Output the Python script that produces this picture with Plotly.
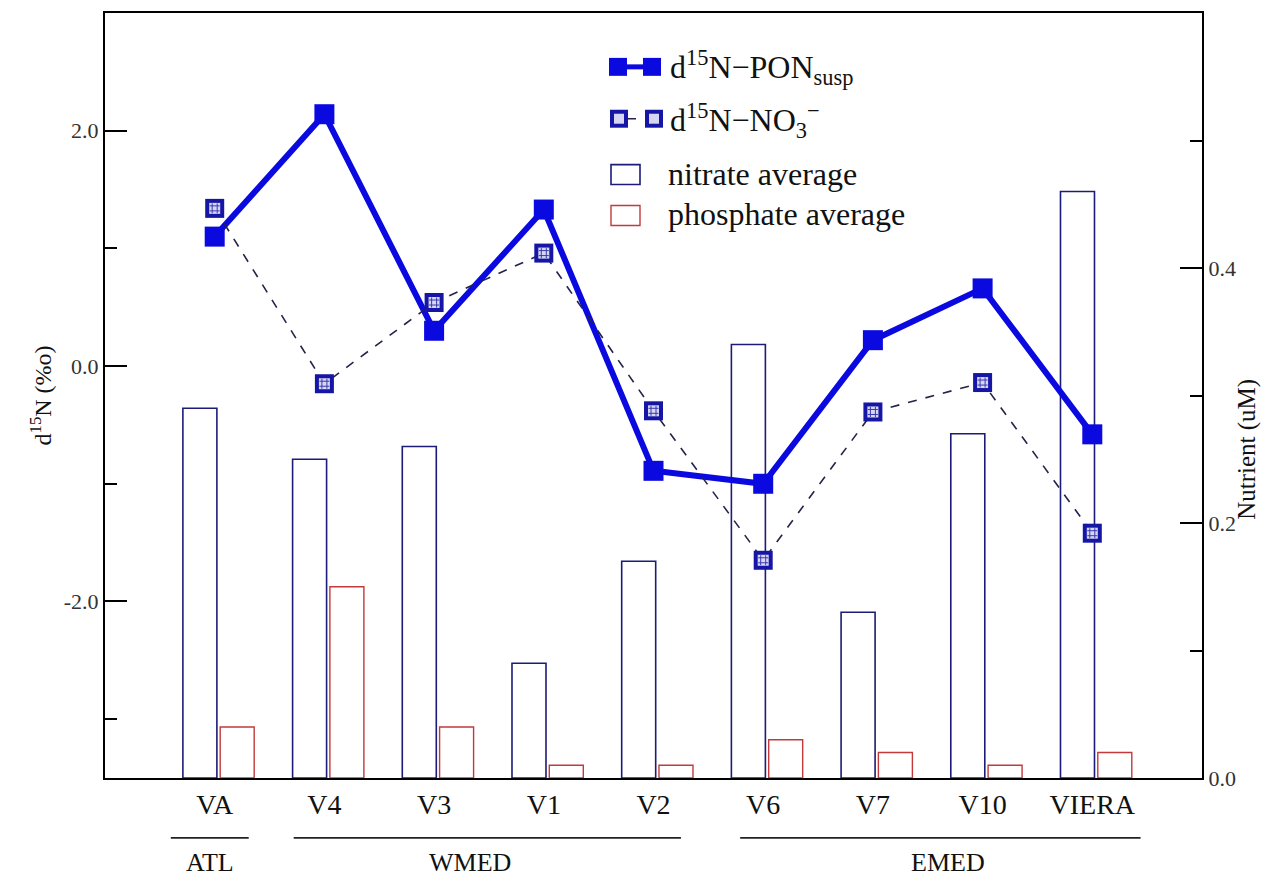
import plotly.graph_objects as go

# Stations along the transect and their regional grouping
stations = ["VA", "V4", "V3", "V1", "V2", "V6", "V7", "V10", "VIERA"]
groups = [("ATL", -0.40, 0.31, -0.04), ("WMED", 0.72, 4.25, 2.33), ("EMED", 4.79, 8.44, 6.68)]

# Isotopic composition (per mil)
d15n_pon = [1.10, 2.14, 0.30, 1.33, -0.89, -1.00, 0.22, 0.66, -0.58]
d15n_no3 = [1.34, -0.15, 0.54, 0.96, -0.38, -1.65, -0.39, -0.14, -1.42]

# Nutrient concentrations (uM)
nitrate_avg = [0.29, 0.25, 0.26, 0.09, 0.17, 0.34, 0.13, 0.27, 0.46]
phosphate_avg = [0.04, 0.15, 0.04, 0.01, 0.01, 0.03, 0.02, 0.01, 0.02]

SERIF = "Liberation Serif, Times New Roman, serif"
NAVY = "#1c1c78"
RED = "#c23a3a"
BLUE = "#0a0ae0"
NO3_EDGE = "#1616a6"
NO3_FILL = "#d6d6f2"

fig = go.Figure()

# Nutrient bars (right axis, drawn underneath the isotope lines)
fig.add_trace(go.Bar(
    x=stations, y=nitrate_avg, yaxis="y", offset=-0.29, width=0.31,
    marker=dict(color="rgba(0,0,0,0)", line=dict(color=NAVY, width=1.6)),
    name="nitrate average", showlegend=False,
))
fig.add_trace(go.Bar(
    x=stations, y=phosphate_avg, yaxis="y", offset=0.05, width=0.31,
    marker=dict(color="rgba(0,0,0,0)", line=dict(color=RED, width=1.4)),
    name="phosphate average", showlegend=False,
))

# d15N of suspended PON
fig.add_trace(go.Scatter(
    x=stations, y=d15n_pon, yaxis="y2", mode="lines+markers",
    line=dict(color=BLUE, width=6),
    marker=dict(symbol="square", size=20, color=BLUE, line=dict(width=0)),
    showlegend=False,
))

# d15N of nitrate: dashed line with patterned square markers
fig.add_trace(go.Scatter(
    x=stations, y=d15n_no3, yaxis="y2", mode="lines+markers",
    line=dict(color="#23234a", width=1.6, dash="dash"),
    marker=dict(symbol="square", size=19, color=NO3_EDGE, line=dict(width=0)),
    showlegend=False,
))
fig.add_trace(go.Scatter(
    x=stations, y=d15n_no3, yaxis="y2", mode="markers",
    marker=dict(symbol="square", size=11, color=NO3_FILL, line=dict(width=0)),
    showlegend=False, hoverinfo="skip",
))
fig.add_trace(go.Scatter(
    x=stations, y=d15n_no3, yaxis="y2", mode="markers",
    marker=dict(symbol="hash-open", size=10, color="#3a3ab0", line=dict(width=1, color="#3a3ab0")),
    showlegend=False, hoverinfo="skip",
))

# ---- hand-built legend (paper coordinates) ----
L, R, T, B = 105, 1202, 11, 778
W, H = R - L, B - T


def px(x):
    return (x - L) / W


def py(y):
    return (B - y) / H


shapes = []
annotations = []


def rect(x0, y0, x1, y1, fill, line_color, lw):
    shapes.append(dict(type="rect", xref="paper", yref="paper",
                       x0=px(x0), x1=px(x1), y0=py(y1), y1=py(y0),
                       fillcolor=fill, line=dict(color=line_color, width=lw), layer="above"))


def seg(x0, y0, x1, y1, color, lw, dash="solid"):
    shapes.append(dict(type="line", xref="paper", yref="paper",
                       x0=px(x0), x1=px(x1), y0=py(y0), y1=py(y1),
                       line=dict(color=color, width=lw, dash=dash), layer="above"))


def label(x, y, text, size=32):
    annotations.append(dict(xref="paper", yref="paper", x=px(x), y=py(y), text=text,
                            showarrow=False, xanchor="left", yanchor="middle",
                            font=dict(family=SERIF, size=size, color="#111")))


# PON row
seg(624, 65, 646, 65, BLUE, 5)
rect(609, 56, 627, 74, BLUE, BLUE, 0)
rect(643, 56, 661, 74, BLUE, BLUE, 0)
label(668, 66, "d<sup>15</sup>N\u2212PON<sub>susp</sub>")

# NO3 row
seg(627, 117, 646, 117, "#23234a", 1.6, "dash")
for cx in (619, 654):
    rect(cx - 9, 108, cx + 9, 126, NO3_EDGE, NO3_EDGE, 0)
    rect(cx - 5, 112, cx + 5, 122, NO3_FILL, NO3_FILL, 0)
label(668, 119, "d<sup>15</sup>N\u2212NO<sub>3</sub><sup>\u2212</sup>")

# bar rows
rect(611, 163, 640, 183, "rgba(0,0,0,0)", NAVY, 1.6)
label(666, 172, "nitrate average")
rect(611, 204, 640, 224, "rgba(0,0,0,0)", RED, 1.4)
label(666, 213, "phosphate average")

# region brackets under the station labels
for name, x0, x1, xl in groups:
    shapes.append(dict(type="line", xref="x", yref="paper", x0=x0, x1=x1,
                       y0=py(838), y1=py(838), line=dict(color="#222", width=1.6)))
    annotations.append(dict(xref="x", yref="paper", x=xl, y=py(863), text=name,
                            showarrow=False, xanchor="center", yanchor="middle",
                            font=dict(family=SERIF, size=26, color="#111")))

# axis titles
annotations.append(dict(xref="paper", yref="paper", x=px(40), y=0.5, text="d<sup>15</sup>N (%o)",
                        showarrow=False, textangle=-90, xanchor="center", yanchor="middle",
                        font=dict(family=SERIF, size=24, color="#111")))
annotations.append(dict(xref="paper", yref="paper", x=px(1247), y=py(449), text="Nutrient (uM)",
                        showarrow=False, textangle=-90, xanchor="center", yanchor="middle",
                        font=dict(family=SERIF, size=25, color="#111")))

fig.update_layout(
    width=1266, height=883,
    margin=dict(l=L, r=1266 - R, t=T, b=883 - B, pad=0),
    paper_bgcolor="white", plot_bgcolor="white",
    barmode="overlay",
    showlegend=False,
    font=dict(family=SERIF, color="#222"),
    xaxis=dict(
        type="category", categoryorder="array", categoryarray=stations,
        range=[-1, 9], showgrid=False, zeroline=False,
        showline=True, linecolor="black", linewidth=2, mirror=True,
        ticks="", tickfont=dict(family=SERIF, size=28, color="#111"),
    ),
    yaxis=dict(
        side="right", range=[0, 0.6], showgrid=False, zeroline=False,
        showline=True, linecolor="black", linewidth=2,
        tickvals=[0.0, 0.2, 0.4], ticktext=["0.0", "0.2", "0.4"],
        ticks="inside", ticklen=22, tickwidth=1.6, tickcolor="black",
        minor=dict(tickvals=[0.1, 0.3, 0.5], ticks="inside", ticklen=12, tickwidth=1.6, tickcolor="black"),
        tickfont=dict(family=SERIF, size=22, color="#333"),
    ),
    yaxis2=dict(
        side="left", overlaying="y", range=[-3.5, 3.0], showgrid=False, zeroline=False,
        showline=True, linecolor="black", linewidth=2,
        tickvals=[-2, 0, 2], ticktext=["-2.0", "0.0", "2.0"],
        ticks="inside", ticklen=22, tickwidth=1.6, tickcolor="black",
        minor=dict(tickvals=[-3, -1, 1], ticks="inside", ticklen=12, tickwidth=1.6, tickcolor="black"),
        tickfont=dict(family=SERIF, size=22, color="#333"),
    ),
    shapes=shapes,
    annotations=annotations,
)

fig.write_html("out.html")
